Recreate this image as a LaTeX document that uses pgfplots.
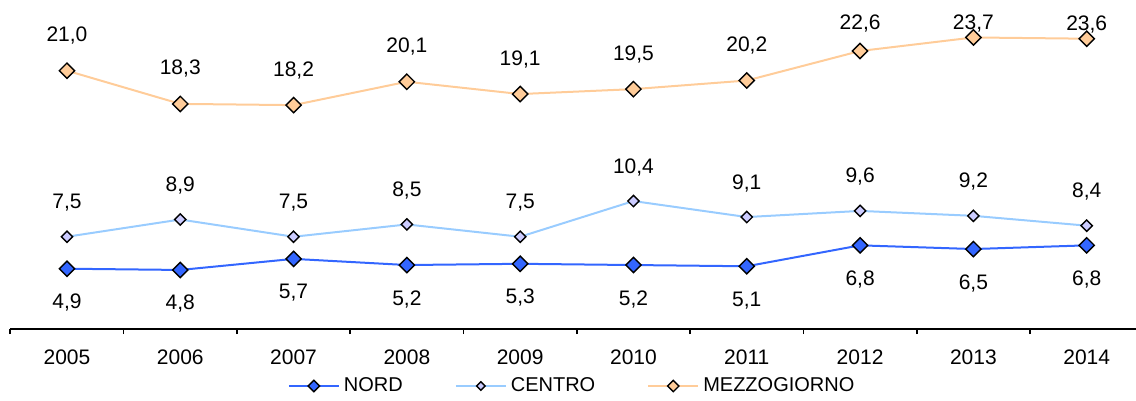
\documentclass[border=0pt]{standalone}
\usepackage{fontspec}
\setmainfont{Liberation Sans}
\usepackage{pgfplots}
\pgfplotsset{compat=1.18}
\usepackage{pgfplotstable}

\definecolor{nordc}{HTML}{3366FF}
\definecolor{centroline}{HTML}{99CCFF}
\definecolor{centrofill}{HTML}{CCCCFF}
\definecolor{mezzc}{HTML}{FFCC99}

% anno, NORD, CENTRO, MEZZOGIORNO, spostamento etichetta mezzogiorno (pt)
\pgfplotstableread{
x nord centro mezz moff
0 4.9 7.5 21.0 17.5
1 4.8 8.9 18.3 17.5
2 5.7 7.5 18.2 17.5
3 5.2 8.5 20.1 17.5
4 5.3 7.5 19.1 17.5
5 5.2 10.4 19.5 17.5
6 5.1 9.1 20.2 17.5
7 6.8 9.6 22.6 13.5
8 6.5 9.2 23.7 6.8
9 6.8 8.4 23.6 7.3
}\datatable

\begin{document}
\begin{tikzpicture}
\path[use as bounding box] (0,0) rectangle (568pt,200.5pt);
\begin{axis}[
    at={(5.15pt,36pt)}, anchor=south west,
    scale only axis,
    width=562.85pt, height=162pt,
    xmin=-0.5, xmax=9.435, ymin=0, ymax=26.34,
    clip=false,
    axis x line*=bottom, axis y line=none,
    x axis line style={line width=0.8pt, black},
    xtick={0,...,9},
    xticklabels={2005,2006,2007,2008,2009,2010,2011,2012,2013,2014},
    major tick length=0pt,
    minor xtick={-0.5,0.5,...,8.5},
    minor tick length=2.6pt,
    tick align=outside,
    every minor tick/.style={line width=0.8pt, black},
    xticklabel style={font=\fontsize{10.5}{12}\selectfont, anchor=center, yshift=-14pt},
    /pgf/number format/assume math mode=true,
    nodes near coords={\pgfmathprintnumber[fixed,fixed zerofill,precision=1,use comma]{\pgfplotspointmeta}},
    every node near coord/.append style={font=\fontsize{10.5}{12}\selectfont, anchor=center, black},
    legend columns=-1,
    legend style={draw=none, fill=none, at={(0.5,-0.176)}, anchor=center,
        font=\fontsize{10}{11}\selectfont,
        /tikz/every even column/.append style={column sep=24pt}},
    legend image code/.code={\draw[#1, mark repeat=2, mark phase=2, every mark/.append style={scale=0.75}] plot coordinates {(0pt,0pt) (12.5pt,0pt) (25pt,0pt)};},
]
\addplot[nordc, line width=1pt, mark=square*, mark size=2.7pt,
    mark options={rotate=45, fill=nordc, draw=black, line width=0.7pt},
    every node near coord/.append style={yshift=-17pt}]
    table[x=x, y=nord] {\datatable};
\addplot[centroline, line width=1pt, mark=square*, mark size=2.0pt,
    mark options={rotate=45, fill=centrofill, draw=black, line width=0.7pt},
    every node near coord/.append style={yshift=17pt}]
    table[x=x, y=centro] {\datatable};
\addplot[mezzc, line width=1pt, mark=square*, mark size=2.7pt,
    mark options={rotate=45, fill=mezzc, draw=black, line width=0.7pt},
    visualization depends on={\thisrow{moff}\as\myoff},
    every node near coord/.append style={yshift=\myoff pt}]
    table[x=x, y=mezz] {\datatable};
\legend{NORD, CENTRO, MEZZOGIORNO}
\end{axis}
\end{tikzpicture}
\end{document}
